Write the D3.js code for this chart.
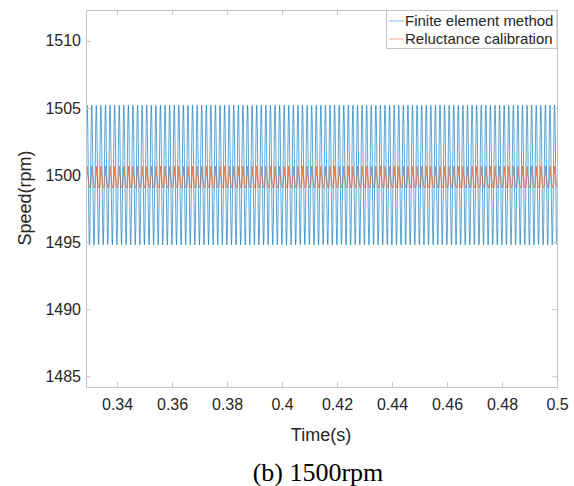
<!DOCTYPE html>
<html>
<head>
<meta charset="utf-8">
<script src="https://cdn.jsdelivr.net/npm/d3@7"></script>
<style>
  body { margin: 0; background: #fff; }
  svg text { font-family: "Liberation Sans", Arial, sans-serif; fill: #262626; }
</style>
</head>
<body>
<svg id="chart" width="574" height="486"></svg>
<script>
// chart values
const xTicks = [0.34, 0.36, 0.38, 0.4, 0.42, 0.44, 0.46, 0.48, 0.5];
const yTicks = [1485, 1490, 1495, 1500, 1505, 1510];
const seriesNames = ['Finite element method', 'Reluctance calibration'];
const seriesColors = ['#0072BD', '#D95319'];
const tStart = 0.3287, tEnd = 0.5;
const period = 1 / 600;   // ripple period, ~12 cycles per 0.02 s
// one ripple cycle of each curve (16 samples)
const feCycle = [1500, 1502.0, 1503.7, 1504.8, 1505.2, 1504.8, 1503.7, 1502.0,
                 1500, 1498.0, 1496.3, 1495.2, 1494.8, 1495.2, 1496.3, 1498.0];
const rcCycle = [1499.1, 1499.3, 1499.7, 1500.2, 1500.65, 1500.3, 1500.0, 1499.9,
                 1499.8, 1499.6, 1499.4, 1499.2, 1499.1, 1499.05, 1499.1, 1499.1];

let svg = d3.select('svg#chart');

// plot box (window.top is reserved, so not "top")
var mLeft = 86, mRight = 557, mTop = 10, mBottom = 387;

let x = d3.scaleLinear().domain([tStart, tEnd]).range([mLeft, mRight]);
let y = d3.scaleLinear().domain([1484.2, 1512.3]).range([mBottom, mTop]);

// repeat the sampled cycle over the time span
function tile(cycle) {
    let pts = [];
    let n = cycle.length;
    for (let i = 0; ; i++) {
        let t = tStart + i * period / n;
        if (t > tEnd) break;
        pts.push([t, cycle[i % n]]);
    }
    return pts;
}
let series = [tile(feCycle), tile(rcCycle)];

svg.append('clipPath').attr('id', 'clip')
    .append('rect')
    .attr('x', mLeft).attr('y', mTop)
    .attr('width', mRight - mLeft).attr('height', mBottom - mTop);

let line = d3.line()
    .x(function(d) { return x(d[0]); })
    .y(function(d) { return y(d[1]); });

let plot = svg.append('g').attr('clip-path', 'url(#clip)');
series.forEach(function(s, i) {
    plot.append('path')
        .datum(s)
        .attr('d', line)
        .attr('fill', 'none')
        .attr('stroke', seriesColors[i])
        .attr('stroke-width', 0.8)
        .attr('stroke-opacity', 0.8);
});

// box with ticks on all four sides
let axisColor = '#c4c4c4';
let tl = 5;

let xb = svg.append('g').attr('transform', 'translate(0,' + mBottom + ')')
    .call(d3.axisBottom(x).tickValues(xTicks).tickSizeInner(-tl).tickSizeOuter(0)
        .tickPadding(12).tickFormat(d3.format('~g')));
let xt = svg.append('g').attr('transform', 'translate(0,' + mTop + ')')
    .call(d3.axisTop(x).tickValues(xTicks).tickSizeInner(-tl).tickSizeOuter(0)
        .tickFormat(''));
let yl = svg.append('g').attr('transform', 'translate(' + mLeft + ',0)')
    .call(d3.axisLeft(y).tickValues(yTicks).tickSizeInner(-tl).tickSizeOuter(0)
        .tickPadding(5).tickFormat(d3.format('d')));
let yr = svg.append('g').attr('transform', 'translate(' + mRight + ',0)')
    .call(d3.axisRight(y).tickValues(yTicks).tickSizeInner(-tl).tickSizeOuter(0)
        .tickFormat(''));

[xb, xt, yl, yr].forEach(function(a) {
    a.selectAll('path').attr('stroke', axisColor);
    a.selectAll('line').attr('stroke', axisColor);
    a.selectAll('text').attr('font-size', 16).attr('fill', '#262626')
        .attr('font-family', '"Liberation Sans", Arial, sans-serif');
});

// axis titles
svg.append('text')
    .attr('x', 321).attr('y', 441)
    .attr('text-anchor', 'middle').attr('font-size', 18)
    .text('Time(s)');
svg.append('text')
    .attr('transform', 'translate(31,198) rotate(-90)')
    .attr('text-anchor', 'middle').attr('font-size', 18)
    .text('Speed(rpm)');

// caption
svg.append('text')
    .attr('x', 318).attr('y', 481)
    .attr('text-anchor', 'middle').attr('font-size', 26)
    .style('font-family', '"Liberation Serif", "Times New Roman", serif')
    .style('fill', '#000')
    .text('(b) 1500rpm');

// legend
let lg = svg.append('g');
lg.append('rect')
    .attr('x', 386.5).attr('y', 10.5)
    .attr('width', mRight - 386.5).attr('height', 38)
    .attr('fill', '#fff').attr('stroke', axisColor);
seriesNames.forEach(function(name, i) {
    let cy = 21 + i * 18;
    lg.append('line')
        .attr('x1', 389).attr('x2', 404)
        .attr('y1', cy).attr('y2', cy)
        .attr('stroke', seriesColors[i]).attr('stroke-width', 0.8)
        .attr('stroke-opacity', 0.6);
    lg.append('text')
        .attr('x', 405).attr('y', cy + 5)
        .attr('font-size', 15)
        .text(name);
});
</script>
</body>
</html>
